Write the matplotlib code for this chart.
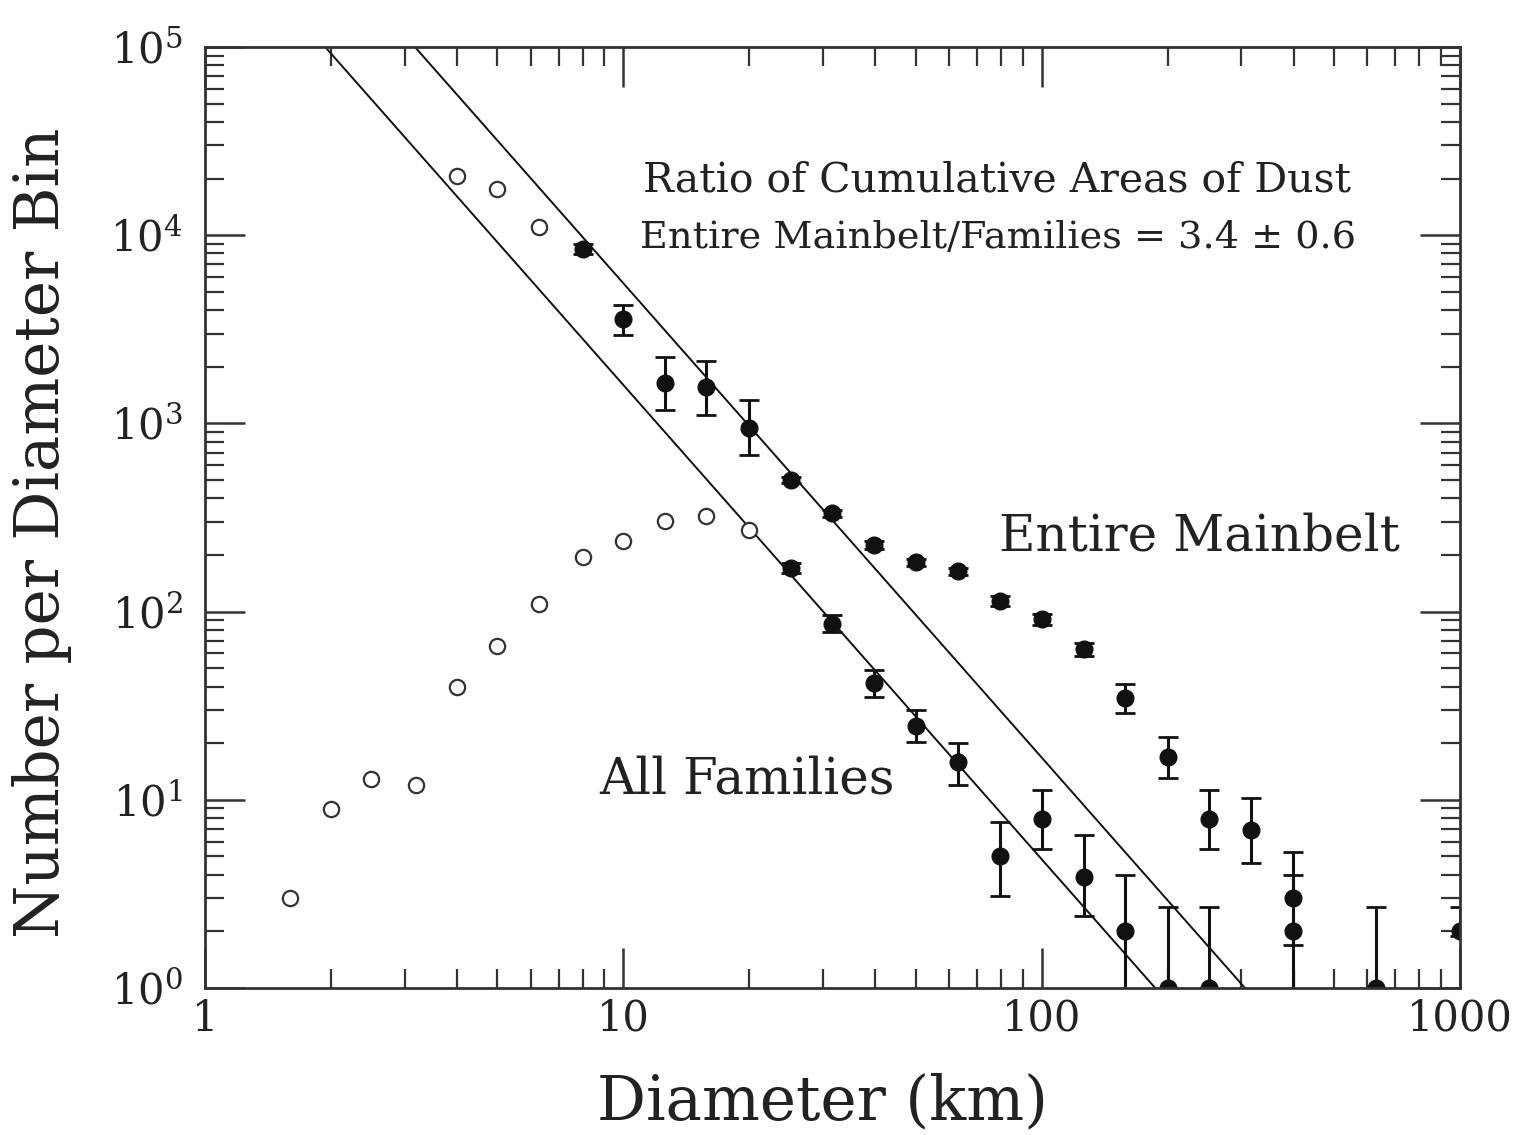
import numpy as np
import matplotlib
matplotlib.use("Agg")
import matplotlib.pyplot as plt
from matplotlib.ticker import LogLocator, FixedLocator, FixedFormatter, NullFormatter

plt.rcParams['font.family'] = ['DejaVu Serif']
plt.rcParams['mathtext.fontset'] = 'dejavuserif'

# Entire main belt: small sizes shown as open circles, the rest with error bars
mb_open_d = [4.0, 5.0, 6.3]
mb_open_n = [20600, 17600, 11100]

mb_d = [8.0, 10.0, 12.6, 15.8, 20.0, 25.1, 31.6, 39.8, 50.1, 63.1, 79.4, 100, 126, 158, 200, 251, 316, 398, 631, 1000]
mb_n = [8450, 3590, 1640, 1560, 945, 500, 334, 226, 183, 164, 114, 91, 63, 34.8, 16.9, 7.9, 6.9, 3.0, 1.0, 2.0]
mb_lo = [7900, 2950, 1180, 1110, 680, 480, 320, 216, 175, 157, 107, 85, 58, 28.9, 13.1, 5.5, 4.6, 1.69, 0.3, 1.9]
mb_hi = [9000, 4260, 2250, 2150, 1330, 520, 348, 236, 191, 171, 121, 97, 68, 41.2, 21.6, 11.3, 10.2, 5.3, 2.7, 2.7]

# All asteroid families
fam_open_d = [1.6, 2.0, 2.5, 3.2, 4.0, 5.0, 6.3, 8.0, 10.0, 12.6, 15.8, 20.0]
fam_open_n = [3.0, 8.9, 12.9, 12.0, 39.8, 66, 110, 195, 237, 302, 322, 271]

fam_d = [25.1, 31.6, 39.8, 50.1, 63.1, 79.4, 100, 126, 158, 200, 251, 398]
fam_n = [170, 86, 42, 24.7, 15.9, 5.0, 7.9, 3.9, 2.0, 1.0, 1.0, 2.0]
fam_lo = [160, 78, 35.2, 20.3, 12.0, 3.1, 5.5, 2.4, 0.3, 0.3, 0.3, 0.3]
fam_hi = [181, 96, 49, 30, 20, 7.6, 11.3, 6.5, 4.0, 2.7, 2.7, 4.0]

# Power-law reference lines N = A * D**slope
line_slope = -2.52
line_amp_mainbelt = 1.84e6
line_amp_families = 5.3e5

x_ticks = [1, 10, 100, 1000]
x_tick_labels = ['1', '10', '100', '1000']

fig = plt.figure(figsize=(15.24, 11.35), dpi=100)
ax = fig.add_axes([0.1345, 0.1295, 0.8235, 0.8291])
ax.set_xscale('log')
ax.set_yscale('log')
ax.set_xlim(1, 1000)
ax.set_ylim(1, 1e5)

ink = '#111111'

dd = np.logspace(0, 3, 400)
ax.plot(dd, line_amp_mainbelt * dd ** line_slope, color=ink, lw=1.4)
ax.plot(dd, line_amp_families * dd ** line_slope, color=ink, lw=1.4)

def draw_series(d, n, lo, hi):
    n = np.asarray(n)
    err = [n - np.asarray(lo), np.asarray(hi) - n]
    ax.errorbar(d, n, yerr=err, fmt='o', color=ink, ms=12, mfc=ink, mec=ink,
                elinewidth=2.2, capsize=7, capthick=2.0, clip_on=True)

draw_series(mb_d, mb_n, mb_lo, mb_hi)
draw_series(fam_d, fam_n, fam_lo, fam_hi)

for d, n in ((mb_open_d, mb_open_n), (fam_open_d, fam_open_n)):
    ax.plot(d, n, 'o', mfc='white', mec='#333333', mew=1.6, ms=11, ls='none')

# axis styling
for sp in ax.spines.values():
    sp.set_linewidth(2.0)
    sp.set_color('#333333')

ax.xaxis.set_major_locator(FixedLocator(x_ticks))
ax.xaxis.set_major_formatter(FixedFormatter(x_tick_labels))
ax.xaxis.set_minor_locator(LogLocator(base=10, subs=np.arange(2, 10), numticks=20))
ax.xaxis.set_minor_formatter(NullFormatter())
ax.yaxis.set_major_locator(LogLocator(base=10, numticks=10))
ax.yaxis.set_minor_locator(LogLocator(base=10, subs=np.arange(2, 10), numticks=20))
ax.yaxis.set_minor_formatter(NullFormatter())

ax.tick_params(which='both', direction='in', top=True, right=True, color='#333333')
ax.tick_params(which='major', length=29, width=1.8)
ax.tick_params(which='minor', length=14, width=1.6)
ax.tick_params(axis='x', which='major', labelsize=30, pad=7)
ax.tick_params(axis='y', which='major', labelsize=30, pad=16)
for lab in ax.get_xticklabels() + ax.get_yticklabels():
    lab.set_color('#222222')

ax.set_xlabel('Diameter (km)', fontsize=44, color='#222222', va='center')
ax.xaxis.set_label_coords(0.492, -0.122)
ax.set_ylabel('Number per Diameter Bin', fontsize=44, color='#222222', va='center')
ax.yaxis.set_label_coords(-0.130, 0.4835)

ax.text(0.631, 0.858, 'Ratio of Cumulative Areas of Dust', transform=ax.transAxes,
        fontsize=29.5, ha='center', va='center', color='#222222')
ax.text(0.632, 0.797, 'Entire Mainbelt/Families = 3.4 \u00b1 0.6', transform=ax.transAxes,
        fontsize=27.5, ha='center', va='center', color='#222222')
ax.text(0.792, 0.479, 'Entire Mainbelt', transform=ax.transAxes,
        fontsize=36, ha='center', va='center', color='#222222')
ax.text(0.432, 0.221, 'All Families', transform=ax.transAxes,
        fontsize=36, ha='center', va='center', color='#222222')

fig.savefig('out.png', dpi=100, facecolor='white')
